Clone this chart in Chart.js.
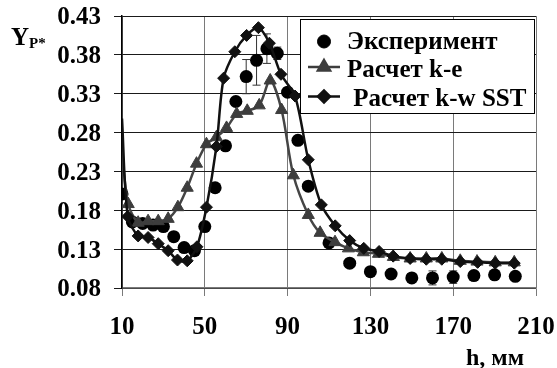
<!DOCTYPE html>
<html>
<head>
<meta charset="utf-8">
<script src="https://cdn.jsdelivr.net/npm/chart.js@4.4.1/dist/chart.umd.min.js"></script>
<style>
  html, body { margin: 0; padding: 0; background: #fff; }
  #wrap { width: 557px; height: 368px; }
</style>
</head>
<body>
<div id="wrap"><canvas id="chart" width="557" height="368"></canvas></div>
<script>
// axis ticks
const xTicks = [10, 50, 90, 130, 170, 210];
const yTicks = [0.08, 0.13, 0.18, 0.23, 0.28, 0.33, 0.38, 0.43];

// Эксперимент (with error bars)
const expX = [10, 15, 20, 25, 30, 35, 40, 45, 50, 55, 60, 65, 70, 75, 80, 85, 90, 95, 100, 110, 120, 130, 140, 150, 160, 170, 180, 190, 200];
const expY = [0.201, 0.165, 0.163, 0.161, 0.159, 0.146, 0.132, 0.128, 0.159, 0.209, 0.263, 0.320, 0.352, 0.373, 0.388, 0.382, 0.332, 0.270, 0.211, 0.138, 0.112, 0.101, 0.098, 0.093, 0.093, 0.094, 0.096, 0.097, 0.095];
const expErr = [0, 0, 0, 0, 0, 0, 0, 0, 0, 0, 0, 0, 0.022, 0.032, 0.019, 0.008, 0, 0, 0, 0, 0, 0.004, 0.004, 0.005, 0.009, 0.008, 0.004, 0.004, 0.004];

// Расчет k-e
const keX = [10, 13, 17.8, 22.6, 27.5, 32.3, 37, 41.5, 46, 50.8, 55.6, 60.5, 65.4, 70.5, 76.3, 81.6, 87.1, 92.8, 100, 105.7, 112.9, 119.4, 126.6, 133.9, 141.1, 149.2, 157, 164.5, 173.4, 181.5, 190.3, 199.5];
const keY = [0.255, 0.188, 0.164, 0.166, 0.166, 0.169, 0.184, 0.209, 0.240, 0.265, 0.274, 0.286, 0.304, 0.308, 0.315, 0.347, 0.309, 0.225, 0.174, 0.151, 0.139, 0.131, 0.126, 0.124, 0.120, 0.118, 0.118, 0.118, 0.115, 0.114, 0.113, 0.113];

// Расчет k-w SST
const sstX = [10, 12.8, 17.8, 22.6, 27.5, 32.3, 36.8, 41.5, 46.2, 50.8, 55.6, 59.1, 64.5, 70.2, 75.9, 81.2, 86.8, 93.6, 100, 106.3, 113, 120, 126.8, 134.2, 141, 149.2, 157, 164.5, 173.4, 181.8, 190.3, 199.5];
const sstY = [0.298, 0.172, 0.147, 0.145, 0.137, 0.128, 0.116, 0.115, 0.133, 0.184, 0.262, 0.350, 0.384, 0.405, 0.415, 0.395, 0.355, 0.327, 0.245, 0.187, 0.160, 0.141, 0.131, 0.127, 0.121, 0.118, 0.117, 0.117, 0.114, 0.113, 0.112, 0.112];

const FONT = '"Liberation Serif", "DejaVu Serif", "Noto Serif", "Times New Roman", serif';
const toPoints = (xs, ys) => xs.map((x, i) => ({ x, y: ys[i] }));

const series = [
  { label: 'Эксперимент', color: '#000', style: 'circle', radius: 6.5, line: false },
  { label: 'Расчет k-e', color: '#3d3d3d', style: 'triangle', radius: 7, line: true },
  { label: ' Расчет k-w SST', color: '#111', style: 'rectRot', radius: 6, line: true }
];

// error bars, legend box and axis titles
const extras = {
  id: 'extras',
  beforeDatasetsDraw(chart) {
    const { ctx, scales: { x, y } } = chart;
    ctx.save();
    ctx.strokeStyle = '#333';
    ctx.lineWidth = 1;
    expX.forEach((h, i) => {
      const e = expErr[i];
      if (!e) return;
      const px = x.getPixelForValue(h);
      const top = y.getPixelForValue(expY[i] + e);
      const bot = y.getPixelForValue(expY[i] - e);
      ctx.beginPath();
      ctx.moveTo(px, top); ctx.lineTo(px, bot);
      ctx.moveTo(px - 4, top); ctx.lineTo(px + 4, top);
      ctx.moveTo(px - 4, bot); ctx.lineTo(px + 4, bot);
      ctx.stroke();
    });
    ctx.restore();
  },
  afterDraw(chart) {
    const ctx = chart.ctx;
    ctx.save();

    // legend
    ctx.fillStyle = '#fff';
    ctx.fillRect(300, 19, 234, 94);
    ctx.strokeStyle = '#000';
    ctx.lineWidth = 1;
    ctx.strokeRect(300.5, 19.5, 234, 94);

    const rows = [{ sy: 41.5, base: 49 }, { sy: 67, base: 77 }, { sy: 96.5, base: 106 }];
    series.forEach((s, i) => {
      const r = rows[i];
      if (s.line) {
        ctx.strokeStyle = s.color;
        ctx.lineWidth = 2.5;
        ctx.beginPath();
        ctx.moveTo(308, r.sy); ctx.lineTo(340, r.sy);
        ctx.stroke();
      }
      ctx.fillStyle = s.color;
      ctx.strokeStyle = s.color;
      Chart.helpers.drawPoint(ctx, { pointStyle: s.style, radius: s.radius, rotation: 0, borderWidth: 1 }, 324, r.sy);
      ctx.fillStyle = '#000';
      ctx.font = 'bold 25px ' + FONT;
      ctx.textBaseline = 'alphabetic';
      ctx.textAlign = 'left';
      ctx.fillText(s.label, 347, r.base);
    });

    // axis titles
    ctx.fillStyle = '#000';
    ctx.font = 'bold 25px ' + FONT;
    ctx.fillText('Y', 11, 45);
    ctx.font = 'bold 15px ' + FONT;
    ctx.fillText('P*', 29, 48);
    ctx.font = 'bold 24px ' + FONT;
    ctx.fillText('h, мм', 466, 365);
    ctx.restore();
  }
};

new Chart(document.getElementById('chart'), {
  type: 'scatter',
  data: {
    datasets: [
      {
        label: series[0].label,
        data: toPoints(expX, expY),
        pointStyle: 'circle', pointRadius: 6.5, pointHoverRadius: 6.5,
        backgroundColor: '#000', borderColor: '#000', borderWidth: 0,
        showLine: false, order: 3
      },
      {
        label: series[1].label,
        data: toPoints(keX, keY),
        pointStyle: 'triangle', pointRadius: ctx => ctx.dataIndex === 0 ? 0 : 7,
        backgroundColor: '#3d3d3d', borderColor: '#454545', borderWidth: 2.5,
        pointBorderWidth: 1, pointBorderColor: '#3d3d3d',
        showLine: true, tension: 0.3, order: 2
      },
      {
        label: series[2].label,
        data: toPoints(sstX, sstY),
        pointStyle: 'rectRot', pointRadius: ctx => ctx.dataIndex === 0 ? 0 : 6,
        backgroundColor: '#111', borderColor: '#111', borderWidth: 2.5,
        pointBorderWidth: 1, pointBorderColor: '#111',
        showLine: true, tension: 0.3, order: 1
      }
    ]
  },
  options: {
    responsive: false,
    devicePixelRatio: 1,
    animation: false,
    layout: { padding: { left: 56, right: 21, top: 16, bottom: 25 } },
    plugins: { legend: { display: false }, tooltip: { enabled: false } },
    scales: {
      x: {
        type: 'linear', min: 10, max: 210,
        afterBuildTicks: s => { s.ticks = xTicks.map(v => ({ value: v })); },
        afterFit: s => { s.height = 55; s.paddingLeft = 0; s.paddingRight = 0; },
        ticks: { color: '#000', font: { family: FONT, size: 25, weight: 'bold' }, padding: 17, maxRotation: 0 },
        grid: { color: '#7a7a7a', lineWidth: 1, tickLength: 8 },
        border: { color: '#7a7a7a', width: 1.5 }
      },
      y: {
        type: 'linear', min: 0.08, max: 0.43,
        afterBuildTicks: s => { s.ticks = yTicks.map(v => ({ value: v })); },
        afterFit: s => { s.width = 66; s.paddingTop = 0; s.paddingBottom = 0; },
        ticks: { color: '#000', font: { family: FONT, size: 25, weight: 'bold' }, padding: 13, labelOffset: 2, callback: v => v.toFixed(2) },
        grid: { color: '#1a1a1a', lineWidth: 1, tickLength: 8 },
        border: { color: '#000', width: 1.5 }
      }
    }
  },
  plugins: [extras]
});
</script>
</body>
</html>
